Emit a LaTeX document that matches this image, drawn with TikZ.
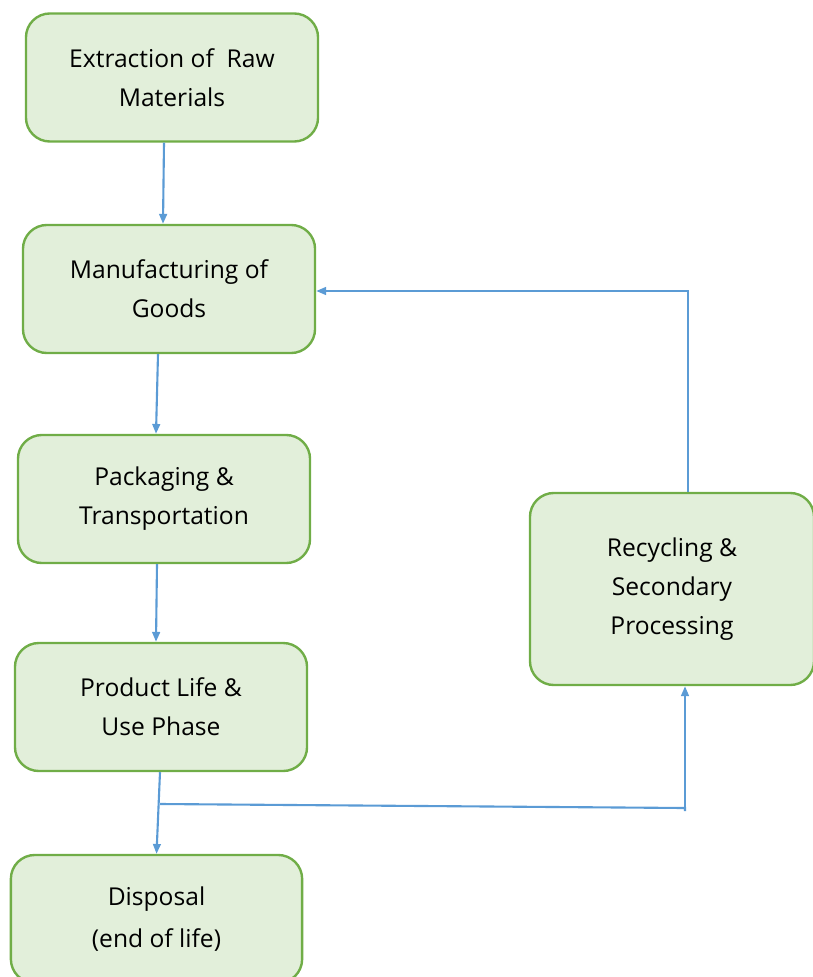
\documentclass[tikz,border=0pt]{standalone}
\usepackage{fontspec}
\setmainfont{Open Sans}
\usetikzlibrary{arrows.meta}
\definecolor{boxfill}{HTML}{E2EFDA}
\definecolor{boxline}{HTML}{70AD47}
\definecolor{flowblue}{HTML}{5B9BD5}
\tikzset{stage/.style = {draw = boxline, fill = boxfill, line width = 1.7pt,
                         rounded corners = 17pt, align = center,
                         minimum width = 7.3cm, minimum height = 3.2cm,
                         execute at begin node = {\rule{0pt}{17pt}},
                         font = \fontsize{17.5pt}{27.6pt}\selectfont}}
\tikzset{flow/.style = {draw = flowblue, line width = 1.5pt,
                        -{Triangle[length = 7pt, width = 5.5pt]}}}
\tikzset{link/.style = {draw = flowblue, line width = 1.5pt}}

\begin{document}
\begin{tikzpicture}[x = 0.025cm, y = -0.025cm]
      \useasboundingbox (0, 0) rectangle (812, 977);
      \node [stage] (extract) at (172, 77.5) {Extraction of~ Raw\\Materials};
      \node [stage] (manuf) at (169, 289) {Manufacturing of\\Goods};
      \node [stage] (pack) at (164, 499) {Packaging \&\\Transportation};
      \node [stage] (life) at (161, 707) {Product Life \&\\Use Phase};
      \node [stage, minimum width = 7.28cm, font = \fontsize{17.5pt}{30pt}\selectfont] (disp) at (156.5, 919) {Disposal\\(end of life)};
      \node [stage, minimum width = 7.1cm, minimum height = 4.8cm] (recyc) at (672, 589) {Recycling \&\\Secondary\\Processing};
      \draw [flow] ([xshift = -0.2cm]extract.south) -- ([xshift = -0.15cm]manuf.north);
      \draw [flow] ([xshift = -0.275cm]manuf.south) -- ([xshift = -0.2cm]pack.north);
      \draw [flow] ([xshift = -0.175cm]pack.south) -- ([xshift = -0.125cm]life.north);
      \draw [flow] ([xshift = -0.025cm]life.south) -- (disp.north);
      \coordinate (split) at (160, 804);
      \coordinate (turn) at (685, 808);
      \coordinate (rise) at (688, 291);
      \draw [link] (split) -- (turn) -- ++(0, 3);
      \draw [flow] (turn) -- (turn |- recyc.south);
      \draw [flow] (rise |- recyc.north) -- (rise) -- (rise -| manuf.east);
    \end{tikzpicture}
\end{document}
